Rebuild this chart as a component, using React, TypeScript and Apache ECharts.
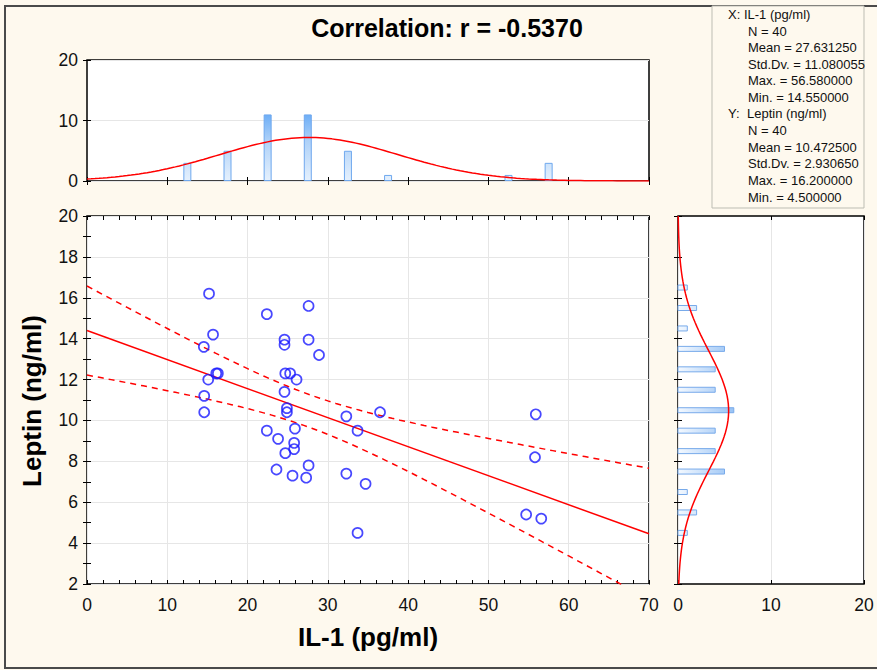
import React, { useEffect, useRef } from "react";
import * as echarts from "echarts";

// ---- data ----
const ilValues = [15.2, 22.4, 27.6, 15.7, 24.6, 27.6, 14.55, 24.6, 28.9, 16.1, 16.3, 24.7, 25.3, 15.1, 26.1, 24.6, 14.6, 24.9, 24.9, 14.6, 32.3, 36.5, 22.4, 33.7, 25.9, 23.8, 25.8, 25.8, 24.7, 23.6, 27.6, 25.6, 27.3, 32.3, 34.7, 33.7, 55.9, 55.8, 54.7, 56.58];
const leptinValues = [16.2, 15.2, 15.6, 14.2, 13.95, 13.95, 13.6, 13.7, 13.2, 12.3, 12.3, 12.3, 12.3, 12.0, 12.0, 11.4, 11.2, 10.6, 10.4, 10.4, 10.2, 10.4, 9.5, 9.5, 9.6, 9.1, 8.9, 8.6, 8.4, 7.6, 7.8, 7.3, 7.2, 7.4, 6.9, 4.5, 10.3, 8.2, 5.4, 5.2];

const xBinCenters = [12.5, 17.5, 22.5, 27.5, 32.5, 37.5, 52.5, 57.5];
const xBinCounts = [3, 5, 11, 11, 5, 1, 1, 3];
const xBinWidth = 5;

const yBinCenters = [4.5, 5.5, 6.5, 7.5, 8.5, 9.5, 10.5, 11.5, 12.5, 13.5, 14.5, 15.5, 16.5];
const yBinCounts = [1, 2, 1, 5, 4, 4, 6, 4, 4, 5, 1, 2, 1];
const yBinWidth = 1;

// summary statistics shown on the chart
const N = 40;
const xMean = 27.63125;
const xSd = 11.080055;
const xMax = 56.58;
const xMin = 14.55;
const yMean = 10.4725;
const ySd = 2.93065;
const yMax = 16.2;
const yMin = 4.5;
const r = -0.537;
const tCrit = 2.0244; // t(0.975, 38)

const mainXTicks = [0, 70, 10];
const mainYTicks = [2, 20, 2];
const histTicks = [0, 20, 10];

const FONT = "'Liberation Sans', Arial, Helvetica, sans-serif";
const BG = "#FEF9EE";

function pdf(v: number, m: number, s: number) {
  return Math.exp(-0.5 * ((v - m) / s) ** 2) / (s * Math.sqrt(2 * Math.PI));
}

export default function App() {
  const ref = useRef<HTMLDivElement>(null);
  useEffect(() => {
    if (!ref.current) return;
    const chart = echarts.init(ref.current, null, { renderer: "svg" });

    const slope = (r * ySd) / xSd;
    const intercept = yMean - slope * xMean;
    const sRes = ySd * Math.sqrt(((1 - r * r) * (N - 1)) / (N - 2));
    const sxx = (N - 1) * xSd * xSd;

    const topCurve: number[][] = [];
    for (let x = 0; x <= 70; x += 0.5) topCurve.push([x, N * xBinWidth * pdf(x, xMean, xSd)]);
    const rightCurve: number[][] = [];
    for (let y = 2; y <= 20.001; y += 0.2) rightCurve.push([N * yBinWidth * pdf(y, yMean, ySd), y]);
    const regLine = [
      [0, intercept],
      [70, intercept + slope * 70],
    ];
    const upper: number[][] = [];
    const lower: number[][] = [];
    for (let x = 0; x <= 70; x += 1) {
      const yh = intercept + slope * x;
      const hw = tCrit * sRes * Math.sqrt(1 / N + ((x - xMean) ** 2) / sxx);
      upper.push([x, yh + hw]);
      lower.push([x, yh - hw]);
    }

    const tick = (extra: any = {}) => ({
      show: true,
      inside: true,
      length: 4,
      lineStyle: { color: "#000", width: 1 },
      ...extra,
    });
    const label = { show: true, color: "#111", fontSize: 17.5, fontFamily: FONT, margin: 9 };
    const split = (show: boolean) => ({ show, lineStyle: { color: "#e6e6e6", width: 1 } });

    const mk = (grid: number, pos: string, range: number[], o: any = {}) => ({
      type: "value",
      gridIndex: grid,
      position: pos,
      min: range[0],
      max: range[1],
      interval: range[2],
      axisLine: { show: false },
      axisTick: tick(),
      axisLabel: { show: false },
      splitLine: split(false),
      ...o,
    });
    const minor = (n: number) => ({ show: true, splitNumber: n, length: 4, lineStyle: { color: "#000", width: 1 } });

    const topGrad = new echarts.graphic.LinearGradient(
      0, 181, 0, 112,
      [
        { offset: 0, color: "#e6f1fd" },
        { offset: 0.6, color: "#acd0f8" },
        { offset: 1, color: "#66aaf6" },
      ],
      true
    );
    const rightGrad = new echarts.graphic.LinearGradient(
      679, 0, 740, 0,
      [
        { offset: 0, color: "#f2f8ff" },
        { offset: 1, color: "#8dbcf3" },
      ],
      true
    );

    const statLines: [string, number, number][] = [
      ["X: IL-1 (pg/ml)", 728, 14],
      [`N = ${N}`, 748, 31],
      [`Mean = ${xMean.toFixed(6)}`, 748, 47],
      [`Std.Dv. = ${xSd.toFixed(6)}`, 748, 64],
      [`Max. = ${xMax.toFixed(6)}`, 748, 80],
      [`Min. = ${xMin.toFixed(6)}`, 748, 97],
      ["Y:", 728, 113],
      ["Leptin (ng/ml)", 747, 113],
      [`N = ${N}`, 748, 130],
      [`Mean = ${yMean.toFixed(6)}`, 748, 147],
      [`Std.Dv. = ${ySd.toFixed(6)}`, 748, 163],
      [`Max. = ${yMax.toFixed(6)}`, 748, 180],
      [`Min. = ${yMin.toFixed(6)}`, 748, 197],
    ];

    chart.setOption({
      animation: false,
      backgroundColor: BG,
      grid: [
        { left: 87, top: 60, width: 562, height: 121, show: true, backgroundColor: "#fff", borderColor: "#000", borderWidth: 1.5 },
        { left: 87, top: 216, width: 562, height: 368, show: true, backgroundColor: "#fff", borderColor: "#000", borderWidth: 1.5 },
        { left: 678, top: 216, width: 186, height: 368, show: true, backgroundColor: "#fff", borderColor: "#000", borderWidth: 1.5 },
      ],
      xAxis: [
        mk(0, "bottom", mainXTicks),
        mk(0, "top", mainXTicks),
        mk(1, "bottom", mainXTicks, { axisLabel: { ...label, margin: 12 }, splitLine: split(true), minorTick: minor(5) }),
        mk(1, "top", mainXTicks, { minorTick: minor(5) }),
        mk(2, "bottom", histTicks, { axisLabel: { ...label, margin: 12 }, splitLine: split(true) }),
        mk(2, "top", histTicks),
      ],
      yAxis: [
        mk(0, "left", histTicks, { axisLabel: label, splitLine: split(true) }),
        mk(0, "right", histTicks),
        mk(1, "left", mainYTicks, { axisLabel: label, splitLine: split(true), minorTick: minor(2) }),
        mk(1, "right", mainYTicks, { minorTick: minor(2) }),
        mk(2, "left", mainYTicks),
        mk(2, "right", mainYTicks),
      ],
      series: [
        {
          type: "bar",
          xAxisIndex: 0,
          yAxisIndex: 0,
          barWidth: 8,
          data: xBinCenters.map((c, i) => [c, xBinCounts[i]]),
          itemStyle: { color: topGrad, borderColor: "#6fa8ee", borderWidth: 1 },
        },
        {
          type: "line",
          xAxisIndex: 0,
          yAxisIndex: 0,
          data: topCurve,
          showSymbol: false,
          lineStyle: { color: "#ff0000", width: 1.5 },
        },
        {
          type: "line",
          xAxisIndex: 2,
          yAxisIndex: 2,
          data: upper,
          showSymbol: false,
          lineStyle: { color: "#ff0000", width: 1.5, type: [6, 5] },
        },
        {
          type: "line",
          xAxisIndex: 2,
          yAxisIndex: 2,
          data: lower,
          showSymbol: false,
          lineStyle: { color: "#ff0000", width: 1.5, type: [6, 5] },
        },
        {
          type: "line",
          xAxisIndex: 2,
          yAxisIndex: 2,
          data: regLine,
          showSymbol: false,
          lineStyle: { color: "#ff0000", width: 1.5 },
        },
        {
          type: "scatter",
          xAxisIndex: 2,
          yAxisIndex: 2,
          data: ilValues.map((x, i) => [x, leptinValues[i]]),
          symbol: "circle",
          symbolSize: 10,
          itemStyle: { color: "rgba(0,0,0,0)", borderColor: "#1a1aff", borderWidth: 1.7 },
          z: 5,
        },
        {
          type: "custom",
          xAxisIndex: 4,
          yAxisIndex: 4,
          data: yBinCenters.map((c, i) => [yBinCounts[i], c]),
          encode: { x: 0, y: 1 },
          renderItem: (_p: any, api: any) => {
            const cnt = api.value(0);
            const yc = api.value(1);
            const p0 = api.coord([0, yc]);
            const p1 = api.coord([cnt, yc]);
            return {
              type: "rect",
              shape: { x: p0[0], y: p0[1] - 2.5, width: p1[0] - p0[0], height: 5 },
              style: { fill: rightGrad, stroke: "#78aaea", lineWidth: 1 },
            };
          },
        },
        {
          type: "line",
          xAxisIndex: 4,
          yAxisIndex: 4,
          data: rightCurve,
          showSymbol: false,
          lineStyle: { color: "#ff0000", width: 1.5 },
          z: 4,
        },
      ],
      graphic: [
        {
          type: "rect",
          shape: { x: 5, y: 6, width: 880, height: 662 },
          style: { fill: "none", stroke: "#4a4a4a", lineWidth: 2 },
          silent: true,
        },
        {
          type: "rect",
          shape: { x: 712, y: 6, width: 152, height: 202 },
          style: { fill: BG, stroke: "#bdbdb3", lineWidth: 1 },
        },
        ...statLines.map(([t, x, y]) => ({
          type: "text",
          x,
          y,
          style: { text: t, fill: "#111", font: `13px ${FONT}`, textVerticalAlign: "middle" },
        })),
        {
          type: "text",
          x: 447,
          y: 28,
          style: {
            text: `Correlation: r = ${r.toFixed(4)}`,
            fill: "#000",
            font: `bold 25px ${FONT}`,
            textAlign: "center",
            textVerticalAlign: "middle",
          },
        },
        {
          type: "text",
          x: 368,
          y: 637,
          style: {
            text: "IL-1 (pg/ml)",
            fill: "#000",
            font: `bold 26px ${FONT}`,
            textAlign: "center",
            textVerticalAlign: "middle",
          },
        },
        {
          type: "text",
          x: 32,
          y: 401,
          rotation: Math.PI / 2,
          style: {
            text: "Leptin (ng/ml)",
            fill: "#000",
            font: `bold 26px ${FONT}`,
            textAlign: "center",
            textVerticalAlign: "middle",
          },
        },
      ],
    });
    return () => chart.dispose();
  }, []);
  return (
    <div
      ref={ref}
      style={{ position: "absolute", left: 0, top: 0, width: 877, height: 670, background: BG }}
    />
  );
}
